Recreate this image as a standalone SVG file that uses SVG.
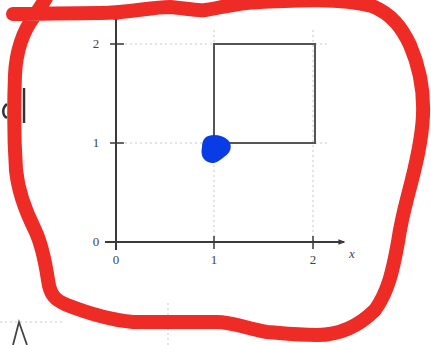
<svg xmlns="http://www.w3.org/2000/svg" width="431" height="345" viewBox="0 0 431 345">
<style>
.ax{stroke:#3a3a3a;stroke-width:2;fill:none}
.tk{stroke:#3a3a3a;stroke-width:1.5}
.grid{stroke:#c8c8c8;stroke-width:1;stroke-dasharray:2 3;fill:none}
.lbl{font-family:"Liberation Serif",serif;font-size:13px;fill:#444;text-anchor:middle}
.sq{stroke:#555;stroke-width:2;fill:none}
</style>
<defs>
<marker id="arr" viewBox="0 0 10 10" refX="8" refY="5" markerWidth="7" markerHeight="7" orient="auto" markerUnits="userSpaceOnUse">
<path d="M0,1 L10,5 L0,9 Z" fill="#3a3a3a"/>
</marker>
</defs>
<rect width="431" height="345" fill="#fff"/>
<g id="grid">
<path class="grid" d="M120,44 H330 M120,143 H330 M214,30 V242 M313,30 V242"/>
<path class="grid" d="M0,322 H62 M168,303 V345"/>
</g>
<g id="axes">
<line class="ax" x1="105" y1="242" x2="344" y2="242" marker-end="url(#arr)"/>
<line class="ax" x1="116" y1="250" x2="116" y2="14" marker-end="url(#arr)"/>
<path class="tk" d="M214,236 V249 M313,236 V249 M116,236 V249 M110,44 H124 M110,143 H124 M110,242 H124"/>
</g>
<g id="labels">
<text class="lbl" x="96" y="48">2</text>
<text class="lbl" x="96" y="147">1</text>
<text class="lbl" x="96" y="246">0</text>
<text class="lbl" x="116" y="264">0</text>
<text class="lbl" x="214" y="264">1</text>
<text class="lbl" x="313" y="264">2</text>
<text class="lbl" x="352" y="258" font-style="italic">x</text>
</g>
<g id="square">
<rect class="sq" x="214" y="44" width="101" height="99"/>
</g>
<g id="dot">
<path d="M205,138 C211,133 222,135 228,140 C233,145 231,153 224,157 C219,161 214,165 208,162 C201,159 201,152 202,147 C202,143 203,140 205,138 Z" fill="#0a3ce6"/>
</g>
<g id="marks">
<path d="M24,88 V123 M7,104 C2,108 2,115 7,118" stroke="#333" stroke-width="2.5" fill="none"/>
<path d="M13,345 L19,322 L27,345" stroke="#444" stroke-width="1.8" fill="none"/>
</g>
<g id="scribble">
<path d="M13,14 C40,14 70,13 100,13 C130,13 150,7 170,7 C185,8 195,11 205,10 C220,8 235,3 260,2 C300,0 340,-2 372,6 C392,14 402,28 410,45 C420,68 424,90 423,115 C422,140 416,165 408,195 C402,218 400,228 398,242 C393,270 388,292 375,310 C360,325 340,335 317,335 C295,335 280,333 267,332 C245,328 232,322 217,322 C190,322 160,322 133,322 C110,320 85,312 67,305 C55,300 50,295 48,280 C45,260 42,245 35,230 C26,212 18,190 16,170 C14,140 14,100 15,75 C16,50 24,30 33,18 C38,10 42,5 46,-2" stroke="#ee2b25" stroke-width="14" fill="none" stroke-linecap="round" stroke-linejoin="round"/>
</g>
</svg>
